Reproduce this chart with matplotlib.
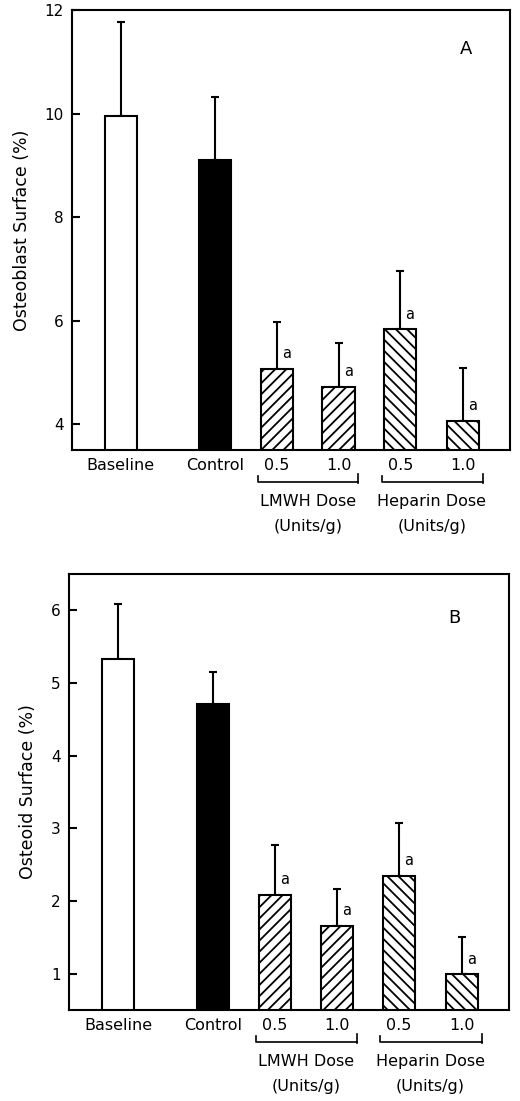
import matplotlib
matplotlib.use('Agg')
import matplotlib.pyplot as plt

# data
groups = ['Baseline', 'Control', '0.5', '1.0', '0.5', '1.0']
osteoblast = [9.95, 9.10, 5.07, 4.72, 5.83, 4.07]
osteoblast_err = [1.82, 1.22, 0.91, 0.85, 1.14, 1.02]
osteoid = [5.33, 4.71, 2.08, 1.66, 2.35, 0.99]
osteoid_err = [0.76, 0.44, 0.69, 0.50, 0.72, 0.51]
significant = [False, False, True, True, True, True]
dose_groups = ['LMWH Dose', 'Heparin Dose']
dose_unit = '(Units/g)'

# layout
xpos = [0, 1.53, 2.53, 3.53, 4.53, 5.55]
width = 0.52
fills = ['white', 'black', 'white', 'white', 'white', 'white']
hatches = [None, None, '///', '///', '\\\\\\', '\\\\\\']

plt.rcParams['font.family'] = 'DejaVu Sans'
plt.rcParams['hatch.linewidth'] = 1.3

fig = plt.figure(figsize=(5.2, 11.01), dpi=100)
ax1 = fig.add_axes([0.1385, 0.5913, 0.8423, 0.3992])
ax2 = fig.add_axes([0.1327, 0.0827, 0.846, 0.396])


def panel(ax, vals, errs, ylim, yticks, ylabel, letter, lx, ly):
    for i in range(len(vals)):
        ax.bar(xpos[i], vals[i], width, color=fills[i], edgecolor='black',
               linewidth=1.5, hatch=hatches[i], zorder=2)
    ax.errorbar(xpos, vals, yerr=[[0] * len(vals), errs], fmt='none',
                ecolor='black', elinewidth=1.5, capsize=3, capthick=1.5, zorder=1)
    for i in range(len(vals)):
        if significant[i]:
            ax.annotate('a', (xpos[i], vals[i]), xytext=(7, 11),
                        textcoords='offset points', ha='center', va='center',
                        fontsize=10.5)
    ax.set_xlim(-0.79, 6.31)
    ax.set_ylim(*ylim)
    ax.set_yticks(yticks)
    ax.set_xticks(xpos)
    ax.set_xticklabels(groups)
    ax.tick_params(axis='y', direction='in', length=6, width=1.5, pad=6,
                   labelsize=11)
    ax.tick_params(axis='x', length=0, pad=6, labelsize=11.5)
    for s in ax.spines.values():
        s.set_linewidth(1.5)
    ax.set_ylabel(ylabel, fontsize=12.5, labelpad=10)
    ax.text(lx, ly, letter, transform=ax.transAxes, fontsize=13,
            ha='center', va='center')

    # dose brackets under the axis, y given in points below the spine
    h_pt = ax.get_position().height * fig.get_figheight() * 72

    def fy(pt):
        return -pt / h_pt

    for k, (a, b) in enumerate([(2, 3), (4, 5)]):
        x0 = xpos[a] - width / 2 - 0.04
        x1 = xpos[b] + width / 2 + 0.06
        ax.plot([x0, x0, x1, x1], [fy(18.5), fy(23), fy(23), fy(17.5)],
                transform=ax.get_xaxis_transform(), color='black', lw=1.2,
                clip_on=False)
        ax.plot([x1, x1], [fy(23), fy(24)], transform=ax.get_xaxis_transform(),
                color='black', lw=1.2, clip_on=False)
        xm = (xpos[a] + xpos[b]) / 2
        ax.text(xm, fy(37), dose_groups[k], transform=ax.get_xaxis_transform(),
                ha='center', va='center', fontsize=11.5)
        ax.text(xm, fy(55), dose_unit, transform=ax.get_xaxis_transform(),
                ha='center', va='center', fontsize=11.5)


panel(ax1, osteoblast, osteoblast_err, (3.5, 12), [4, 6, 8, 10, 12],
      'Osteoblast Surface (%)', 'A', 0.9, 0.912)
panel(ax2, osteoid, osteoid_err, (0.5, 6.5), [1, 2, 3, 4, 5, 6],
      'Osteoid Surface (%)', 'B', 0.877, 0.9)

fig.savefig('out.png', dpi=100)
